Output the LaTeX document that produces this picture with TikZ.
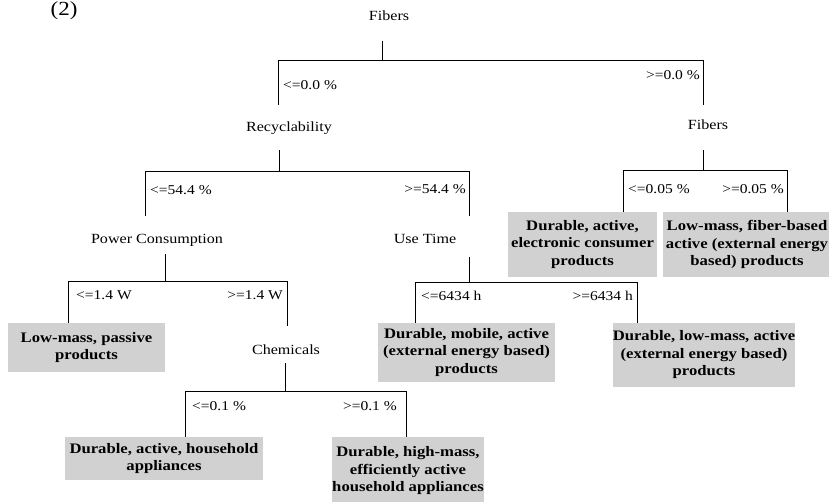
\documentclass[tikz,border=0pt]{standalone}
\usepackage{fontspec}
\setmainfont{Liberation Serif}[FakeStretch=1.15]
\definecolor{leafgray}{gray}{0.82}
\begin{document}
\begin{tikzpicture}[x=1pt,y=-1pt,
  attr/.style={inner sep=0pt,font=\fontsize{14}{16}\selectfont},
  cond/.style={inner sep=0pt,font=\fontsize{13.5}{16}\selectfont},
  leaf/.style={fill=leafgray,inner sep=0pt,align=center,
    font=\bfseries\fontsize{14.5}{17.5}\selectfont},
  branch/.style={line width=1pt,line join=miter}]
\useasboundingbox (0,0) rectangle (829,501);

% panel tag
\node[anchor=base,inner sep=0pt,font=\fontsize{20}{22}\selectfont] (tag) at (64,15.5) {(2)};

% split nodes
\node[attr] (root) at (389,16) {Fibers};
\node[attr] (recy) at (289,128) {Recyclability};
\node[attr] (fib2) at (708,125) {Fibers};
\node[attr] (power) at (157,240) {Power Consumption};
\node[attr] (use) at (425,239) {Use Time};
\node[attr] (chem) at (286,350) {Chemicals};

% leaf classes
\node[leaf,minimum width=157pt,minimum height=49pt] (L1) at (86.5,347.5) {Low-mass, passive\\products};
\node[leaf,minimum width=198pt,minimum height=43pt] (L2) at (164,458.5) {Durable, active, household\\appliances};
\node[leaf,minimum width=150pt,minimum height=68pt] (L3) at (408,471) {Durable, high-mass,\\efficiently active\\household appliances};
\node[leaf,minimum width=177pt,minimum height=59pt] (L4) at (466.5,352.5) {Durable, mobile, active\\(external energy based)\\products};
\node[leaf,minimum width=182pt,minimum height=64pt] (L5) at (704,355) {Durable, low-mass, active\\(external energy based)\\products};
\node[leaf,minimum width=149pt,minimum height=65pt] (L6) at (582.5,244.5) {Durable, active,\\electronic consumer\\products};
\node[leaf,minimum width=168pt,minimum height=65pt] (L7) at (747,244.5) {Low-mass, fiber-based\\active (external energy\\based) products};

% split on Fibers (root)
\coordinate (s0a) at (382,41);  \coordinate (s0b) at (382,60);
\coordinate (b0l) at (278,60);  \coordinate (b0r) at (703,60);
\coordinate (e0l) at (278,105); \coordinate (e0r) at (703,105);
\draw[branch] (s0a) -- (s0b);
\draw[branch] (e0l) -- (b0l) -- (b0r) -- (e0r);
\node[cond,anchor=west] (c0l) at (283,85) {<=0.0 \%};
\node[cond,anchor=east] (c0r) at (700,75) {>=0.0 \%};

% split on Recyclability
\coordinate (s1a) at (279,150); \coordinate (s1b) at (279,171);
\coordinate (b1l) at (145,171); \coordinate (b1r) at (469,171);
\coordinate (e1l) at (145,216); \coordinate (e1r) at (469,216);
\draw[branch] (s1a) -- (s1b);
\draw[branch] (e1l) -- (b1l) -- (b1r) -- (e1r);
\node[cond,anchor=west] (c1l) at (150,190) {<=54.4 \%};
\node[cond,anchor=east] (c1r) at (466,189) {>=54.4 \%};

% split on Fibers (second level)
\coordinate (s2a) at (703,150); \coordinate (s2b) at (703,170);
\coordinate (b2l) at (623,170); \coordinate (b2r) at (787,170);
\draw[branch] (s2a) -- (s2b);
\draw[branch] (b2l |- L6.north) -- (b2l) -- (b2r) -- (b2r |- L7.north);
\node[cond,anchor=west] (c2l) at (628,189) {<=0.05 \%};
\node[cond,anchor=east] (c2r) at (784,189) {>=0.05 \%};

% split on Power Consumption
\coordinate (s3a) at (165,254); \coordinate (s3b) at (165,281);
\coordinate (b3l) at (68,281);  \coordinate (b3r) at (287,281);
\coordinate (e3r) at (287,326);
\draw[branch] (s3a) -- (s3b);
\draw[branch] (b3l |- L1.north) -- (b3l) -- (b3r) -- (e3r);
\node[cond,anchor=west] (c3l) at (76,295) {<=1.4 W};
\node[cond,anchor=east] (c3r) at (283,295) {>=1.4 W};

% split on Use Time
\coordinate (s4a) at (469,257); \coordinate (s4b) at (469,282);
\coordinate (b4l) at (415,282); \coordinate (b4r) at (637,282);
\draw[branch] (s4a) -- (s4b);
\draw[branch] (b4l |- L4.north) -- (b4l) -- (b4r) -- (b4r |- L5.north);
\node[cond,anchor=west] (c4l) at (421,296) {<=6434 h};
\node[cond,anchor=east] (c4r) at (633,296) {>=6434 h};

% split on Chemicals
\coordinate (s5a) at (285,363); \coordinate (s5b) at (285,391);
\coordinate (b5l) at (185,391); \coordinate (b5r) at (406,391);
\draw[branch] (s5a) -- (s5b);
\draw[branch] (b5l |- L2.north) -- (b5l) -- (b5r) -- (b5r |- L3.north);
\node[cond,anchor=west] (c5l) at (192,406) {<=0.1 \%};
\node[cond,anchor=east] (c5r) at (397,406) {>=0.1 \%};
\end{tikzpicture}
\end{document}
